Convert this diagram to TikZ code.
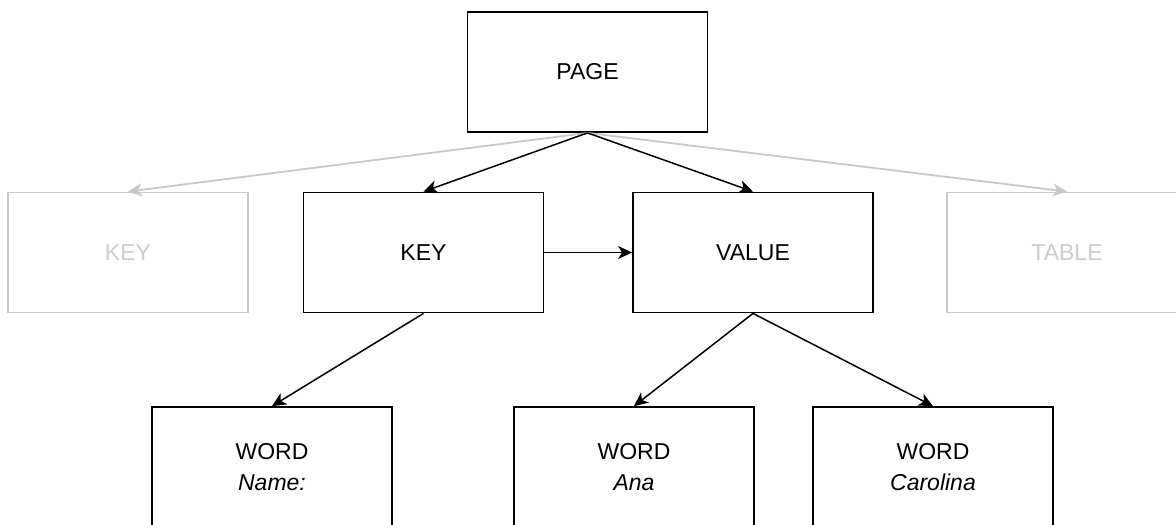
\documentclass[tikz,border=0pt]{standalone}
\usepackage{fontspec}
\setmainfont{Liberation Sans}
\usetikzlibrary{arrows.meta}
\definecolor{lgray}{HTML}{C8C8C8}
\definecolor{ltext}{HTML}{CCCCCC}
\begin{document}
\begin{tikzpicture}[x=1pt,y=-1pt,
  box/.style={draw=black, line width=1.8pt, minimum width=240pt, minimum height=120pt, inner sep=0pt, font=\fontsize{23}{31}\selectfont, align=center, text=black},
  gbox/.style={box, draw=lgray, text=ltext},
  arr/.style={line width=1.5pt, draw=black, -{Stealth[length=14pt,width=13pt,inset=4pt]}},
  garr/.style={arr, draw=lgray, line width=1.8pt}]
\useasboundingbox (0,0) rectangle (1176,525);
\clip (0,0) rectangle (1176,525);
\node[box] (page) at (587.5,72) {PAGE};
\node[gbox] (gkey) at (128,252.5) {KEY};
\node[box] (key) at (423.5,252.5) {KEY};
\node[box] (value) at (753,252.5) {VALUE};
\node[gbox] (table) at (1067,252.5) {TABLE};
\node[box] (w1) at (272,467) {WORD\\\textit{Name:}};
\node[box] (w2) at (634,467) {WORD\\\textit{Ana}};
\node[box] (w3) at (933,467) {WORD\\\textit{Carolina}};
\draw[garr] (page.south) -- (gkey.north);
\draw[garr] (page.south) -- (table.north);
\draw[arr] (page.south) -- (key.north);
\draw[arr] (page.south) -- (value.north);
\draw[arr] (key.east) -- (value.west);
\draw[arr] (key.south) -- (w1.north);
\draw[arr] (value.south) -- (w2.north);
\draw[arr] (value.south) -- (w3.north);
\end{tikzpicture}
\end{document}
